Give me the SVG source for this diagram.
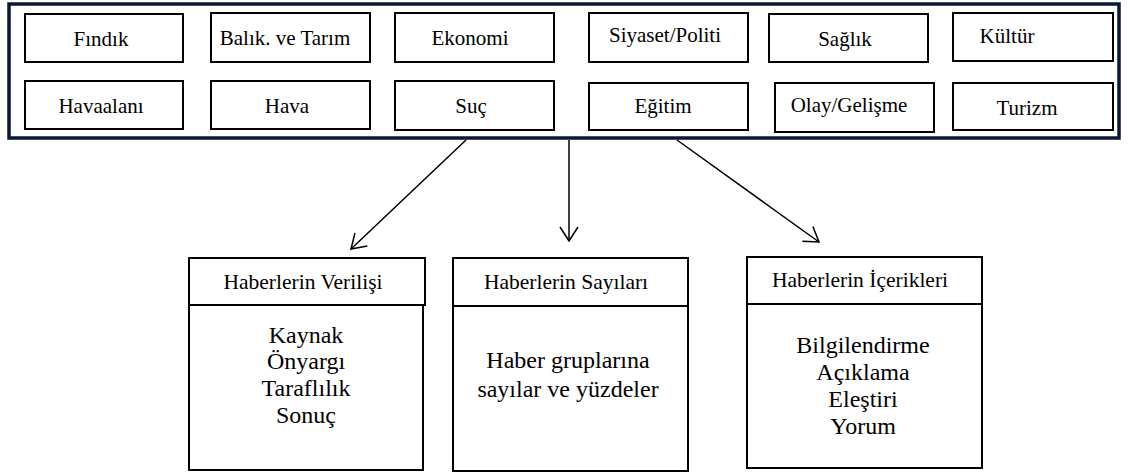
<svg xmlns="http://www.w3.org/2000/svg" width="1128" height="472" viewBox="0 0 1128 472">
<style>
.bg{fill:#ffffff}
.frame{fill:none;stroke:#0b1736;stroke-width:3.5}
.box{fill:#ffffff;stroke:#000000;stroke-width:2}
text{font-family:'Liberation Serif','Times New Roman',Times,serif;fill:#000000;text-anchor:middle}
.s20{font-size:21px}
.s21{font-size:21.5px}
.s24{font-size:24px}
.conn{stroke:#000000;stroke-width:1.5;fill:none}
</style>
<defs>
<marker id="arr" viewBox="0 0 16 20" refX="15" refY="10" markerWidth="16" markerHeight="20" markerUnits="userSpaceOnUse" orient="auto">
<path d="M1,1 L15,10 L1,19" fill="none" stroke="#000000" stroke-width="1.5"/>
</marker>
</defs>
<rect class="bg" x="0" y="0" width="1128" height="472"/>
<g id="frame"><rect class="frame" x="9" y="4" width="1110" height="134"/></g>

<g id="n-findik"><rect class="box" x="25" y="14" width="158" height="48"/><text class="s20" x="101" y="46">Fındık</text></g>
<g id="n-balik"><rect class="box" x="211" y="13" width="159" height="49"/><text class="s20" x="285" y="45">Balık. ve Tarım</text></g>
<g id="n-ekonomi"><rect class="box" x="395" y="13" width="159" height="49"/><text class="s20" x="470" y="45">Ekonomi</text></g>
<g id="n-siyaset"><rect class="box" x="589" y="13" width="159" height="49"/><text class="s20" x="665" y="42">Siyaset/Politi</text></g>
<g id="n-saglik"><rect class="box" x="769" y="14" width="159" height="48"/><text class="s20" x="845" y="46">Sağlık</text></g>
<g id="n-kultur"><rect class="box" x="953" y="13" width="160" height="48"/><text class="s20" x="1007" y="43">Kültür</text></g>

<g id="n-havaalani"><rect class="box" x="25" y="81" width="158" height="48"/><text class="s20" x="101" y="113">Havaalanı</text></g>
<g id="n-hava"><rect class="box" x="211" y="81" width="159" height="48"/><text class="s20" x="287" y="113">Hava</text></g>
<g id="n-suc"><rect class="box" x="395" y="81" width="159" height="49"/><text class="s20" x="471" y="113">Suç</text></g>
<g id="n-egitim"><rect class="box" x="589" y="83" width="159" height="47"/><text class="s20" x="663" y="113">Eğitim</text></g>
<g id="n-olay"><rect class="box" x="775" y="83" width="159" height="49"/><text class="s20" x="849" y="112">Olay/Gelişme</text></g>
<g id="n-turizm"><rect class="box" x="953" y="83" width="160" height="47"/><text class="s20" x="1027" y="115">Turizm</text></g>

<g id="connectors">
<line class="conn" x1="466" y1="140" x2="351" y2="249" marker-end="url(#arr)"/>
<line class="conn" x1="569" y1="140" x2="569" y2="241" marker-end="url(#arr)"/>
<line class="conn" x1="677" y1="140" x2="819" y2="242" marker-end="url(#arr)"/>
</g>

<g id="n-verilisi">
<rect class="box" x="189" y="258" width="236" height="47"/>
<rect class="box" x="189" y="305" width="234" height="165"/>
<text class="s21" x="303" y="289">Haberlerin Verilişi</text>
<text class="s24" x="306" y="343">Kaynak</text>
<text class="s24" x="306" y="369">Önyargı</text>
<text class="s24" x="306" y="396">Taraflılık</text>
<text class="s24" x="306" y="423">Sonuç</text>
</g>

<g id="n-sayilari">
<rect class="box" x="453" y="258" width="235" height="48"/>
<rect class="box" x="453" y="306" width="235" height="165"/>
<text class="s21" x="566" y="289">Haberlerin Sayıları</text>
<text class="s24" x="568" y="368">Haber gruplarına</text>
<text class="s24" x="568" y="397">sayılar ve yüzdeler</text>
</g>

<g id="n-icerikleri">
<rect class="box" x="747" y="257" width="235" height="47"/>
<rect class="box" x="747" y="304" width="235" height="164"/>
<text class="s21" x="860" y="287">Haberlerin İçerikleri</text>
<text class="s24" x="863" y="353">Bilgilendirme</text>
<text class="s24" x="863" y="380">Açıklama</text>
<text class="s24" x="863" y="407">Eleştiri</text>
<text class="s24" x="863" y="434">Yorum</text>
</g>
</svg>
